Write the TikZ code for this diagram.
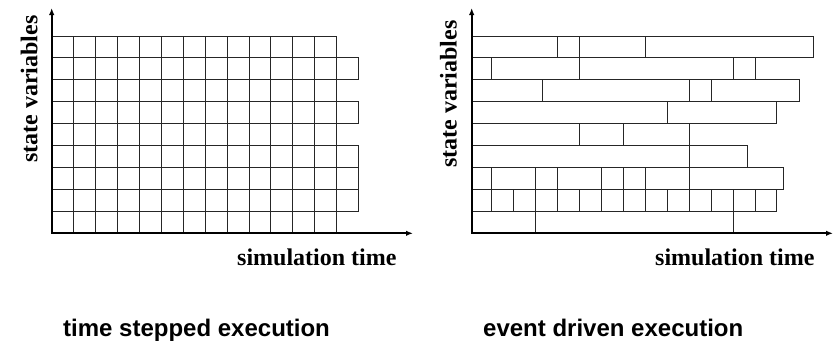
\documentclass[tikz,border=0pt]{standalone}
\usepackage{fontspec}
\setmainfont{Liberation Serif}
\newfontfamily\labelsans{Liberation Sans}
\usetikzlibrary{arrows.meta}

\tikzset{
  cell/.style={draw=black!85, line width=0.9pt},
  axis/.style={line width=1.8pt, {Latex[length=7pt,width=5.5pt]}-{Latex[length=7pt,width=5.5pt]}},
  axislabel/.style={inner sep=0pt, font=\fontsize{24}{28}\selectfont\bfseries},
  caption/.style={inner sep=0pt, font=\labelsans\fontsize{24}{28}\selectfont\bfseries},
}

\begin{document}
\begin{tikzpicture}[x=1pt, y=-1pt]
  \useasboundingbox[fill=white] (0,0) rectangle (838,343);

  % ---------- time stepped panel ----------
  \def\rowh{21.9}
  \def\colw{21.92}
  % regular grid: 9 state variables x 13 steps
  \foreach \r in {0,...,8}{
    \foreach \c in {0,...,12}{
      \draw[cell] ({51.7+\c*\colw},{36+\r*\rowh}) rectangle ++(\colw,\rowh);
    }
  }
  % extra step on some of the variables
  \foreach \r in {1,3,5,6,7}{
    \draw[cell] ({51.7+13*\colw},{36+\r*\rowh}) rectangle ++(\colw,\rowh);
  }
  \coordinate (Lo) at (51.7,233.3);
  \coordinate (Ly) at (51.7,8);
  \coordinate (Lx) at (413,233.3);
  \draw[axis] (Ly) -- (Lo) -- (Lx);

  % ---------- event driven panel ----------
  % each row lists the end points of its events along simulation time
  \foreach \r/\xs in {
      0/{557,579,645.7,813.3},
      1/{491,579,733.3,755},
      2/{542.7,689.3,711.7,799},
      3/{667.7,776.7},
      4/{579,623.3,689.3},
      5/{689.3,747.5},
      6/{491,535.7,557.3,601.7,623.3,645.7,689.3,783.7},
      7/{491,513.3,535.7,557.3,579.3,601.7,623.3,645.7,667.7,689.3,711.7,733.3,755,776.7},
      8/{535.7,733.3}}{
    \foreach \x [remember=\x as \px (initially 471.7)] in \xs {
      \draw[cell] (\px,{36+\r*\rowh}) rectangle (\x,{36+(\r+1)*\rowh});
    }
  }
  \coordinate (Ro) at (471.7,233.3);
  \coordinate (Ry) at (471.7,8);
  \coordinate (Rx) at (833,233.3);
  \draw[axis] (Ry) -- (Ro) -- (Rx);

  % ---------- labels ----------
  \node[axislabel, rotate=90, anchor=base west] (lvar) at (37.3,163) {state variables};
  \node[axislabel, rotate=90, anchor=base west] (rvar) at (456.7,168) {state variables};
  \node[axislabel, anchor=base west] (ltime) at (237,265) {simulation time};
  \node[axislabel, anchor=base west] (rtime) at (655,265) {simulation time};
  \node[caption, anchor=base west] (lcap) at (63,336) {time stepped execution};
  \node[caption, anchor=base west] (rcap) at (483,336) {event driven execution};
\end{tikzpicture}
\end{document}
